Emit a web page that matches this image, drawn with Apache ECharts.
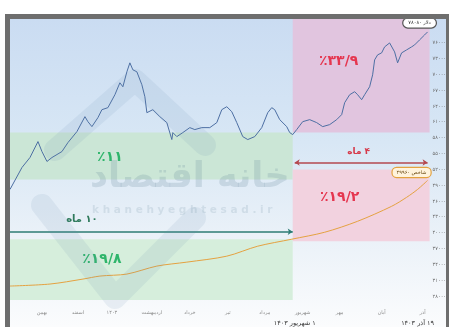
<!DOCTYPE html>
<html>
<head>
<meta charset="utf-8">
<script src="https://cdn.jsdelivr.net/npm/echarts@6/dist/echarts.min.js"></script>
<style>
html,body{margin:0;padding:0;background:#fff;}
#c{width:449px;height:327px;}
</style>
</head>
<body>
<div id="c" dir="rtl"></div>
<script>
// ---- data ----
// x = trading-day index from the left edge, y = price (toman)
const priceDays = [0,12,20,28,32,37,42,52,58,67,75,78,82,88,92,98,105,110,113,117,120,123,127,132,135,137,143,150,157,162,163,167,173,180,185,192,200,207,212,217,222,227,233,238,245,252,258,262,265,270,277,280,283,287,293,300,307,313,320,327,332,335,340,345,348,352,355,360,363,365,368,372,375,380,385,388,392,397,402,405,410,415,418];
const priceValues = [48260,52420,54300,57320,55430,53550,54300,55430,57130,59210,62040,61090,60150,61850,63360,63740,66190,68450,67700,70530,72230,70910,70530,68080,65810,62790,63360,62040,60910,57700,59020,58260,59020,59960,59590,59960,59960,60910,63360,63920,62980,60910,58260,57700,58260,59960,62790,63740,63360,61470,60150,59020,58640,59590,61090,61470,60910,60150,60530,61470,62420,64680,66190,66760,66190,65250,66190,67700,69960,72790,73740,74110,75250,76000,74300,72230,74110,74680,75250,75620,76570,77510,78080];
const indexDays = [0,40,73,90,117,147,177,217,248,282,315,348,382,397,408,418];
const indexValues = [29960,30340,31280,31850,32230,33740,34490,35620,37510,38830,40150,42230,45060,46760,48260,49960];

const yTicks = [28000,31000,34000,37000,40000,43000,46000,49000,52000,55000,58000,61000,64000,67000,70000,73000,76000];
const monthTickDays = [32,68,102,142,180,218,255,293,330,372,413];
const monthLabels = ['بهمن','اسفند','۱۴۰۳','اردیبهشت','خرداد','تیر','مرداد','شهریور','مهر','آبان','آذر'];
const rangeTickDays = [285,408];
const rangeLabels = ['۱ شهریور ۱۴۰۳','۱۹ آذر ۱۴۰۳'];

// bands: [fromDay, toDay, lowPrice, highPrice]
const bandLeftUpper = [0,283,50150,59020];
const bandLeftLower = [0,283,27320,38830];
const bandRightUpper = [283,420,59020,80530];
const bandRightLower = [283,420,38450,52040];
// spans: [fromDay, toDay, price]
const spanLeft = [0,283,40250];
const spanRight = [285,418,53360];

const notes = [
  {text:'٪۳۳/۹', day:329, price:72420, kind:'red'},
  {text:'٪۱۹/۲', day:330, price:46750, kind:'red'},
  {text:'٪۱۱', day:100, price:54300, kind:'green'},
  {text:'٪۱۹/۸', day:92, price:35050, kind:'green'},
  {text:'۱۰ ماه', day:72, price:42600, kind:'teal'},
  {text:'۴ ماه', day:349, price:55430, kind:'redSmall'}
];
const priceTag = 'دلار ۷۸۰۸۰';
const indexTag = 'شاخص ۴۹۹۶۰';
const watermark = 'خانه اقتصاد';
const watermarkSite = 'k h a n e h y e g h t e s a d . i r';

// ---- chart ----
const fa = s => String(s).replace(/\d/g, d => '۰۱۲۳۴۵۶۷۸۹'[d]);
const pairs = (xs, ys) => xs.map((x, i) => [x, ys[i]]);
const band = (b, color) => [{xAxis:b[0], yAxis:b[2], itemStyle:{color}}, {xAxis:b[1], yAxis:b[3]}];
const noteStyle = {
  red:{color:'#e5364f', fontSize:14, fontWeight:'bold'},
  green:{color:'#2fb56b', fontSize:14, fontWeight:'bold'},
  teal:{color:'#2f7a5c', fontSize:10, fontWeight:'bold'},
  redSmall:{color:'#d63a4a', fontSize:9, fontWeight:'bold'}
};
const wmStroke = {stroke:'rgba(100,140,170,0.11)', lineWidth:22, lineCap:'round', lineJoin:'round', fill:null};

const chart = echarts.init(document.getElementById('c'), null, {renderer:'canvas'});
chart.setOption({
  animation:false,
  backgroundColor:'#ffffff',
  textStyle:{fontFamily:'DejaVu Sans, Noto Sans, sans-serif'},
  graphic:[
    {type:'rect', z:-10, shape:{x:10,y:19,width:436,height:308},
     style:{fill:new echarts.graphic.LinearGradient(0,0,0,1,[
       {offset:0,color:'#cadcf2'},{offset:0.4,color:'#d8e7f5'},{offset:0.7,color:'#eaf1f8'},{offset:1,color:'#fbfcfd'}])}},
    {type:'polyline', z:50, silent:true, shape:{points:[[55,150],[135,80],[205,145]]}, style:wmStroke},
    {type:'polyline', z:50, silent:true, shape:{points:[[42,205],[115,298],[195,218]]}, style:wmStroke},
    {type:'text', z:50, left:90, top:160, style:{text:watermark, fill:'rgba(95,130,150,0.20)', font:'bold 35px DejaVu Sans'}},
    {type:'text', z:50, left:92, top:205, style:{text:watermarkSite, fill:'rgba(95,130,150,0.16)', font:'bold 10.5px DejaVu Sans'}},
    {type:'rect', z:100, shape:{x:5,y:14,width:444,height:5}, style:{fill:'#6e6e6e'}},
    {type:'rect', z:100, shape:{x:5,y:14,width:5,height:313}, style:{fill:'#6e6e6e'}},
    {type:'rect', z:100, shape:{x:446,y:14,width:3,height:313}, style:{fill:'#6e6e6e'}}
  ],
  grid:{left:10, right:19, top:19, bottom:24},
  xAxis:[
    {type:'value', min:0, max:420, axisLine:{show:false}, axisTick:{show:false}, splitLine:{show:false},
     axisLabel:{customValues:monthTickDays, formatter:v => monthLabels[monthTickDays.indexOf(v)] || '',
       fontSize:5, color:'#8a8a8a', margin:8}},
    {type:'value', position:'bottom', offset:10, min:0, max:420, axisLine:{show:false}, axisTick:{show:false}, splitLine:{show:false},
     axisLabel:{customValues:rangeTickDays, formatter:v => rangeLabels[rangeTickDays.indexOf(v)] || '',
       fontSize:6.5, color:'#333', margin:8}}
  ],
  yAxis:{type:'value', position:'right', min:26940, max:80530,
    axisLine:{show:false}, axisTick:{show:false}, splitLine:{show:false},
    axisLabel:{customValues:yTicks, formatter:v => fa(v), fontSize:5, color:'#6a6a6a', margin:3}},
  series:[
    {name:'bands', type:'line', data:[], z:1, silent:true,
     markArea:{silent:true, label:{show:false},
       data:[band(bandLeftUpper,'#cbe6d6'), band(bandLeftLower,'#d6eedc'),
             band(bandRightUpper,'#e1c5df'), band(bandRightLower,'#f2d2df')]}},
    {name:'index', type:'line', data:pairs(indexDays,indexValues), z:2, symbol:'none', smooth:0.3,
     lineStyle:{color:'#e5a241', width:1},
     markPoint:{symbolSize:0, silent:true, data:[{coord:[indexDays[indexDays.length-1], indexValues[indexValues.length-1]],
       label:{show:true, position:'inside', offset:[-16,-8], formatter:indexTag, fontSize:5, color:'#6b4a12',
         backgroundColor:'#fff3dc', borderColor:'#e3a23f', borderWidth:1.2, borderRadius:4, padding:[2,4]}}]}},
    {name:'price', type:'line', data:pairs(priceDays,priceValues), z:3, symbol:'none',
     lineStyle:{color:'#4d6fa3', width:1},
     markPoint:{symbolSize:0, silent:true, data:[{coord:[priceDays[priceDays.length-1], priceValues[priceValues.length-1]],
       label:{show:true, position:'inside', offset:[-8,-9], formatter:priceTag, fontSize:5, color:'#333',
         backgroundColor:'#ffffff', borderColor:'#555', borderWidth:1.2, borderRadius:5, padding:[2,5]}}]}},
    {name:'notes', type:'line', data:[], z:4, silent:true,
     markLine:{silent:true, symbolSize:5, label:{show:false},
       data:[
         [{coord:[spanLeft[0],spanLeft[2]], symbol:'none', lineStyle:{color:'#2d7b74', width:1.5, type:'solid'}},
          {coord:[spanLeft[1],spanLeft[2]], symbol:'arrow'}],
         [{coord:[spanRight[0],spanRight[2]], symbol:'arrow', lineStyle:{color:'#b4484f', width:1.5, type:'solid'}},
          {coord:[spanRight[1],spanRight[2]], symbol:'arrow'}]
       ]},
     markPoint:{symbolSize:0, silent:true,
       data:notes.map(n => ({coord:[n.day,n.price],
         label:Object.assign({show:true, position:'inside', formatter:n.text}, noteStyle[n.kind])}))}}
  ]
});
</script>
</body>
</html>
